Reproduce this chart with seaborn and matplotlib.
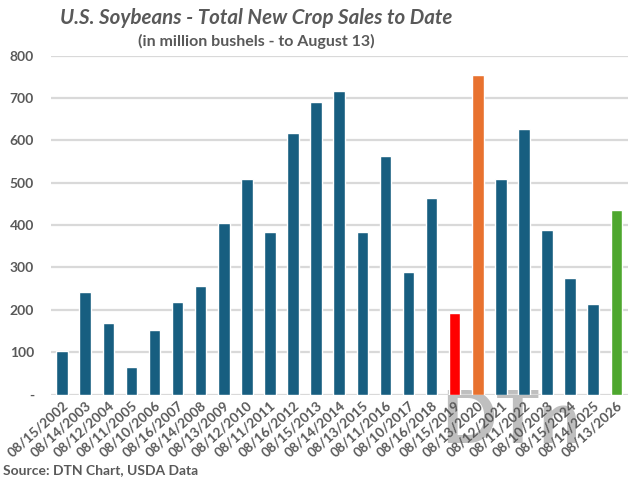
import matplotlib
matplotlib.use("Agg")
import matplotlib.pyplot as plt
import seaborn as sns
import pandas as pd

dates = ["08/15/2002", "08/14/2003", "08/12/2004", "08/11/2005", "08/10/2006",
         "08/16/2007", "08/14/2008", "08/13/2009", "08/12/2010", "08/11/2011",
         "08/16/2012", "08/15/2013", "08/14/2014", "08/13/2015", "08/11/2016",
         "08/10/2017", "08/16/2018", "08/15/2019", "08/13/2020", "08/12/2021",
         "08/11/2022", "08/10/2023", "08/15/2024", "08/14/2025", "08/13/2026"]
sales = [104, 241, 169, 65, 153, 218, 257, 404, 509, 383, 618, 691, 716, 383,
         562, 290, 463, 192, 755, 508, 626, 388, 276, 213, 435]
bar_colors = ["#175E80"] * 17 + ["#FF0000", "#E8722F"] + ["#175E80"] * 5 + ["#4EA72E"]

yticks = [0, 100, 200, 300, 400, 500, 600, 700, 800]
ytick_labels = ["-", "100", "200", "300", "400", "500", "600", "700", "800"]

sns.set_theme(style="white")
plt.rcParams["font.family"] = ["Lato", "DejaVu Sans"]
txt = "#595959"

df = pd.DataFrame({"date": dates, "sales": sales})

fig = plt.figure(figsize=(6.4, 4.8), dpi=100)
ax = fig.add_axes([0.079, 0.178, 0.902, 0.706])
ax.set_zorder(2)
ax.patch.set_alpha(0)

sns.barplot(data=df, x="date", y="sales", hue="date", palette=bar_colors,
            legend=False, width=0.5, ax=ax, zorder=3, saturation=1)

ax.set_ylim(0, 800)
ax.set_xlim(-0.5, len(dates) - 0.5)
ax.set_yticks(yticks)
ax.set_yticklabels(ytick_labels, color=txt, fontsize=10, fontweight="bold")
for y in yticks:
    ax.axhline(y, color="#D9D9D9", lw=1.6, zorder=1)
ax.set_xticks(range(len(dates)))
ax.set_xticklabels(dates, rotation=42, ha="right", rotation_mode="anchor",
                   color=txt, fontsize=9.8, fontweight="bold")
ax.tick_params(axis="x", length=0, pad=3)
ax.tick_params(axis="y", length=0, pad=12)
ax.set_xlabel("")
ax.set_ylabel("")
for s in ax.spines.values():
    s.set_visible(False)

# watermark (behind the axes)
fig.text(0.69, 0.078, "DTn", fontsize=52, fontweight="bold", color="#BFBFBF",
         ha="left", va="baseline", zorder=0)

fig.text(0.40, 0.962, "U.S. Soybeans - Total New Crop Sales to Date", ha="center",
         va="center", fontsize=14.8, fontweight="bold", fontstyle="italic", color=txt)
fig.text(0.40, 0.913, "(in million bushels - to August 13)", ha="center",
         va="center", fontsize=11.5, fontweight="bold", color=txt)
fig.text(0.005, 0.02, "Source: DTN Chart, USDA Data", ha="left", va="center",
         fontsize=10, fontweight="bold", color=txt)

fig.savefig("out.png", dpi=100)
